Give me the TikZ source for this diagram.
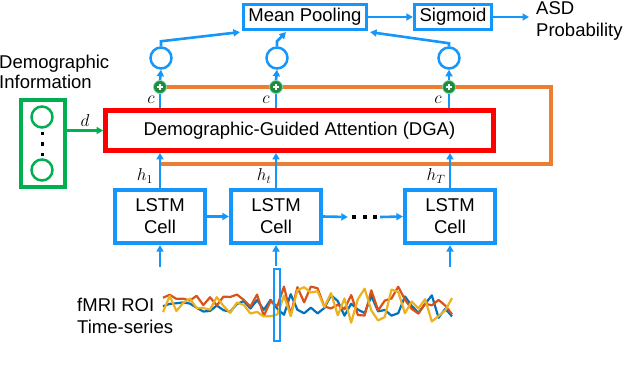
\documentclass[tikz,border=0pt]{standalone}
\usepackage[no-math]{fontspec}
\setmainfont{Liberation Sans}
\usetikzlibrary{arrows.meta,backgrounds}
\definecolor{cblue}{RGB}{20,150,250}
\definecolor{cred}{RGB}{255,0,0}
\definecolor{cgreen}{RGB}{0,176,80}
\definecolor{cdkgreen}{RGB}{30,140,60}
\definecolor{corange}{RGB}{237,125,49}
\definecolor{tsb}{RGB}{0,114,189}
\definecolor{tso}{RGB}{217,83,25}
\definecolor{tsy}{RGB}{237,177,32}
\begin{document}
\begin{tikzpicture}[x=1pt,y=-1pt,
  font=\fontsize{18.5}{22}\selectfont,
  bluebox/.style={draw=cblue,line width=3.2pt,inner sep=0pt,align=center},
  lstmbox/.style={draw=cblue,line width=4.2pt,inner sep=0pt,align=center,minimum width=90pt,minimum height=53pt},
  ocirc/.style={circle,draw=cblue,line width=2.5pt,inner sep=0pt,minimum size=21pt},
  gcirc/.style={circle,draw=cgreen,line width=2.5pt,inner sep=0pt,minimum size=21pt},
  plusnode/.style={circle,fill=cdkgreen,draw=cgreen!50!white,line width=0.8pt,inner sep=0pt,minimum size=13pt,
    path picture={\draw[white,line width=1.5pt]
      ([xshift=-3.2pt]path picture bounding box.center) -- ([xshift=3.2pt]path picture bounding box.center)
      ([yshift=-3.2pt]path picture bounding box.center) -- ([yshift=3.2pt]path picture bounding box.center);}},
  barrow/.style={draw=cblue,line width=2.6pt,-{Triangle[length=6.5pt,width=7pt]}},
  bline/.style={draw=cblue,line width=2.6pt},
  lbl/.style={inner sep=0pt,font=\fontsize{18.5}{22}\selectfont},
  tsline/.style={line width=2.2pt,line join=round}]
\useasboundingbox (0,0) rectangle (640,368);

% top boxes
\node[bluebox,minimum width=123pt,minimum height=25pt] (mp) at (305,17) {Mean Pooling};
\node[bluebox,minimum width=77pt,minimum height=25pt] (sig) at (453,17) {Sigmoid};
\coordinate (outp) at (529,17);
\node[lbl,anchor=west,align=left] (asd) at (536,20.5) {ASD\\Probability};
\draw[barrow] (mp.east) -- (sig.west);
\draw[barrow] (sig.east) -- (outp);

% circles
\node[ocirc] (o1) at (161,58) {};
\node[ocirc] (o2) at (277,58) {};
\node[ocirc] (o3) at (449,58) {};

% plus nodes
\node[plusnode] (p1) at (160,87) {};
\node[plusnode] (p2) at (276,87) {};
\node[plusnode] (p3) at (449,87) {};

% DGA
\node[draw=cred,line width=4.8pt,minimum width=388pt,minimum height=40pt,inner sep=0pt] (dga) at (299.5,130.5) {Demographic-Guided Attention (DGA)};

% LSTM cells
\node[lstmbox] (l1) at (160,216.5) {LSTM\\Cell};
\node[lstmbox] (l2) at (276,216.5) {LSTM\\Cell};
\node[lstmbox] (l3) at (450,216.5) {LSTM\\Cell};
\node[inner sep=0pt] (dots) at (364.5,217) {\rule{4pt}{4pt}\hspace{6.5pt}\rule{4pt}{4pt}\hspace{6.5pt}\rule{4pt}{4pt}};

% orange residual
\coordinate (otr) at (551,87);
\coordinate (obr) at (551,164);
\coordinate (obl) at (160,164);
\begin{scope}[on background layer]
\draw[corange,line width=3.2pt] (p1.center) -- (otr) -- (obr) -- (obl);
\end{scope}

% h arrows
\draw[barrow] (l1.north) -- (l1.north |- dga.south);
\draw[barrow] (l2.north) -- (l2.north |- dga.south);
\draw[barrow] (l3.north) -- (l3.north |- dga.south);
\node[lbl] (h1) at (145,176) {$h_1$};
\node[lbl] (ht) at (264,176) {$h_t$};
\node[lbl] (hT) at (436,176) {$h_T$};

% c lines
\draw[bline] (p1 |- dga.north) -- (p1.south);
\draw[bline] (p2 |- dga.north) -- (p2.south);
\draw[bline] (p3 |- dga.north) -- (p3.south);
\node[lbl] (c1) at (151,100) {$c$};
\node[lbl] (c2) at (266,100) {$c$};
\node[lbl] (c3) at (438,100) {$c$};

% plus to circle
\draw[barrow] (p1.north) -- (o1.south);
\draw[barrow] (p2.north) -- (o2.south);
\draw[barrow] (p3.north) -- (o3.south);

% circles to mean pooling
\draw[barrow] (o1.north) -- ++(0,-5) -- ([xshift=-2pt,yshift=-1pt]mp.south west);
\draw[barrow] (o2.north) -- ++(0,-5) -- ([xshift=-19pt,yshift=-1pt]mp.south);
\draw[barrow] (o3.north) -- ++(0,-3) -- ([xshift=2pt,yshift=-1pt]mp.south east);

% LSTM chain
\draw[barrow] (l1.east) -- (l2.west);
\draw[barrow] (l2.east) -- ([xshift=-4pt]dots.west);
\draw[barrow] ([xshift=3pt]dots.east) -- (l3.west);

% demographic
\node[lbl,anchor=west,align=left] (demtxt) at (-1,72) {Demographic\\[-2pt]Information};
\node[draw=cgreen,line width=4.2pt,minimum width=44pt,minimum height=87pt,inner sep=0pt] (gbox) at (43,143.5) {};
\node[gcirc] (g1) at (42,117) {};
\node[gcirc] (g2) at (42,170) {};
\fill (40.5,131.5) rectangle ++(3.8,3.8);
\fill (40.5,142) rectangle ++(3.8,3.8);
\fill (40.5,152.5) rectangle ++(3.8,3.8);
\draw[draw=cgreen,line width=2.6pt,-{Triangle[length=6.5pt,width=7pt]}] (gbox.east |- dga.west) -- (dga.west) node[midway,above=3pt,lbl] (dlbl) {$d$};

% inputs
\coordinate (i1) at (160,267);
\coordinate (i2) at (276,266);
\coordinate (i3) at (450,267);
\draw[barrow] (i1) -- (l1.south);
\draw[barrow] (i2) -- (l2.south);
\draw[barrow] (i3) -- (l3.south);

% fMRI text
\node[lbl,anchor=west,align=left] (fmri) at (77,316) {fMRI ROI\\Time-series};

% time series
\pgfmathsetseed{11}
\draw[tsline,tsb] plot[domain=163:452,samples=44] (\x,{306+(\x<260?7:14)*rand});
\draw[tsline,tso] plot[domain=163:452,samples=44] (\x,{302+(\x<260?8:16)*rand});
\draw[tsline,tsy] plot[domain=163:452,samples=44] (\x,{305+(\x<260?9:18)*rand});

\node[draw=cblue,line width=1.8pt,minimum width=6pt,minimum height=72pt,inner sep=0pt] (hl) at (277,305) {};
\end{tikzpicture}
\end{document}
